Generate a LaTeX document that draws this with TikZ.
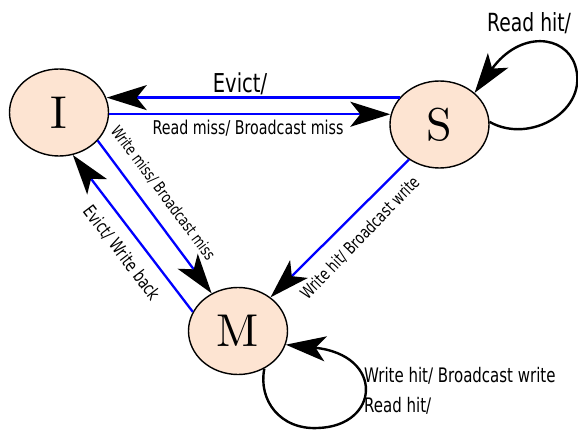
\documentclass[tikz,border=0pt]{standalone}
\usepackage{fontspec}
\usetikzlibrary{arrows.meta,shapes.geometric}
\newfontfamily\lbl[FakeStretch=0.75]{DejaVu Sans}
\definecolor{peach}{RGB}{253,228,210}
\newcommand{\statetext}[1]{\scalebox{4.6}{#1}}
\begin{document}
\begin{tikzpicture}[x=1pt,y=-1pt,
  state/.style={ellipse,draw=black,line width=1.4pt,fill=peach,minimum width=99pt,minimum height=87pt,inner sep=0pt,font=\normalsize},
  bigarrow/.style={-{Stealth[length=40pt,width=25pt,inset=10pt,color=black]}},
  bedge/.style={bigarrow,draw=blue,line width=2.3pt},
  loopedge/.style={bigarrow,draw=black,line width=2.4pt},
  lab/.style={inner sep=0pt,text=black}]
\useasboundingbox (0,0) rectangle (578,430);
\node[state] (I) at (59,112.5) {\statetext{I}};
\node[state] (S) at (439.5,124.5) {\statetext{S}};
\node[state] (M) at (238,331) {\statetext{M}};

\draw[bedge] (S.146) -- (I.16 |- S.146);
\draw[bedge] (I.-2) -- (S.170 |- I.-2);
\draw[bedge] (I.-36) -- (M.125);
\draw[bedge] (M.157) -- (I.-72);
\draw[bedge] (S.229) -- (M.46);

\draw[loopedge] (S.3) .. controls (530,145) and (590,110) .. (575,65)
  .. controls (565,35) and (520,30) .. (S.42);
\draw[loopedge] (M.-55) .. controls (258,400) and (280,430) .. (318,428)
  .. controls (380,426) and (385,355) .. (M.-16);

\node[lab,font=\lbl\fontsize{26}{30}\selectfont] (evict) at (240,84) {Evict/};
\node[lab,font=\lbl\fontsize{19}{22}\selectfont] (rmiss) at (248,128) {Read miss/ Broadcast miss};
\node[lab,font=\lbl\fontsize{16}{19}\selectfont,rotate=-53.2] (wmiss) at (163,193) {Write miss/ Broadcast miss};
\node[lab,font=\lbl\fontsize{18}{21}\selectfont,rotate=-52.8] (ewb) at (122,253) {Evict/ Write back};
\node[lab,font=\lbl\fontsize{17}{20}\selectfont,rotate=46] (whd) at (360,238) {Write hit/ Broadcast write};
\node[lab,anchor=base west,font=\lbl\fontsize{20}{24}\selectfont] (whm) at (364,382) {Write hit/ Broadcast write};
\node[lab,anchor=base west,font=\lbl\fontsize{20}{24}\selectfont] (rhm) at (364,412) {Read hit/};
\node[lab,anchor=base west,font=\lbl\fontsize{25}{30}\selectfont] (rhs) at (487,32) {Read hit/};
\end{tikzpicture}
\end{document}
